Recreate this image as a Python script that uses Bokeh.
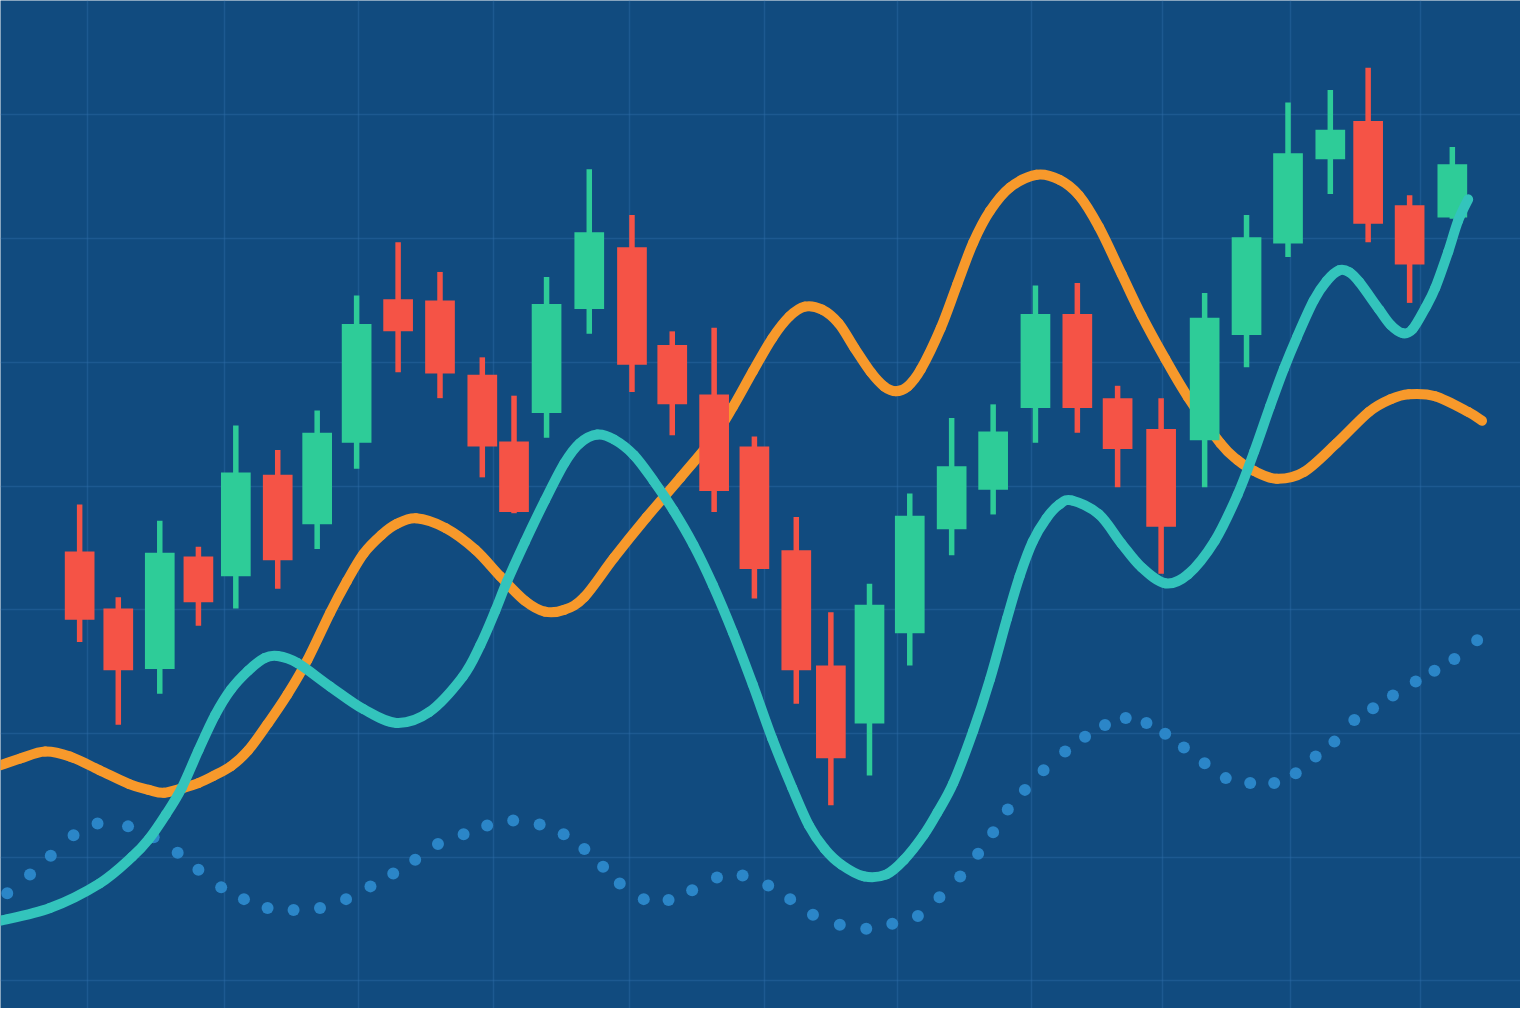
import numpy as np
from bokeh.plotting import figure
from bokeh.models import Range1d, FixedTicker, SingleIntervalTicker, ColumnDataSource
from bokeh.embed import file_html
from bokeh.resources import INLINE

# ---- candle data (time in trading days, price in points) ----
t = [0.00, 0.95, 1.97, 2.92, 3.84, 4.87, 5.84, 6.81, 7.83, 8.86, 9.90, 10.68,
     11.48, 12.53, 13.58, 14.57, 15.60, 16.59, 17.62, 18.47, 19.42, 20.41, 21.44,
     22.46, 23.50, 24.53, 25.52, 26.59, 27.66, 28.69, 29.71, 30.75, 31.68, 32.70, 33.75]
open_ = [134.7, 130.1, 125.2, 134.3, 132.7, 140.9, 136.9, 143.5, 155.1, 155.0, 149.0, 143.6,
         145.9, 154.3, 159.3, 151.4, 147.4, 143.2, 134.8, 125.5, 120.8, 128.1, 136.5,
         139.7, 146.3, 153.9, 147.1, 144.6, 143.7, 152.2, 159.6, 166.4, 169.5, 162.7, 161.7]
high = [138.5, 131.0, 137.2, 135.1, 144.9, 142.9, 146.1, 155.4, 159.7, 157.3, 150.4, 147.3,
        156.9, 165.6, 161.9, 152.5, 152.8, 144.0, 137.5, 129.8, 132.1, 139.4, 145.5,
        146.6, 156.2, 156.4, 148.1, 147.1, 155.6, 161.9, 171.0, 172.0, 173.8, 163.5, 167.4]
low = [127.4, 120.7, 123.2, 128.7, 130.1, 131.7, 134.9, 141.4, 149.2, 147.1, 140.7, 137.8,
       143.9, 152.3, 147.6, 144.1, 137.9, 130.9, 122.4, 114.2, 116.6, 125.5, 134.4,
       137.7, 143.5, 144.3, 139.9, 132.9, 139.9, 149.6, 158.5, 163.6, 159.7, 154.8, 161.6]
close = [129.2, 125.1, 134.6, 130.6, 141.1, 134.0, 144.3, 153.1, 152.5, 149.1, 143.2, 137.9,
         154.7, 160.5, 149.8, 146.6, 139.6, 133.3, 125.1, 118.0, 130.4, 137.6, 141.6,
         144.4, 153.9, 146.3, 143.0, 136.7, 153.6, 160.1, 166.9, 168.8, 161.2, 157.9, 166.0]

# ---- orange moving average ----
ma_slow_t = [-1.95, -1.46, -0.85, -0.24, 0.49, 1.22, 1.70, 2.07, 2.55, 2.92,
             3.28, 3.72, 4.14, 4.62, 5.11, 5.60, 6.16, 6.57, 6.98, 7.42,
             7.79, 8.27, 9.00, 9.73, 10.34, 10.95, 11.44, 11.92, 12.41, 13.14,
             13.94, 14.77, 15.57, 16.06, 16.55, 17.03, 17.45, 17.83, 18.25, 18.66,
             19.05, 19.46, 19.78, 20.07, 20.36, 20.68, 21.17, 21.58, 21.97, 22.38,
             22.87, 23.53, 24.09, 24.57, 25.06, 25.62, 26.11, 26.69, 27.25, 28.05,
             28.47, 28.88, 29.44, 30.10, 30.90, 31.70, 32.24, 32.68, 33.33, 34.14,
             34.48]
ma_slow = [117.43, 117.98, 118.54, 118.14, 117.03, 115.91, 115.44, 115.20, 115.60, 115.99,
           116.55, 117.35, 118.62, 120.77, 123.16, 125.94, 129.76, 132.30, 134.53, 136.04,
           136.92, 137.39, 136.60, 134.85, 132.70, 130.71, 129.84, 130.00, 131.03, 134.21,
           137.47, 140.66, 143.84, 146.38, 149.25, 151.95, 153.70, 154.50, 154.26, 153.15,
           151.16, 149.17, 148.05, 147.66, 148.05, 149.41, 152.75, 156.33, 159.67, 162.22,
           164.12, 165.16, 164.76, 163.49, 160.94, 157.12, 153.78, 150.28, 147.18, 143.44,
           142.09, 141.21, 140.58, 141.13, 143.44, 145.99, 147.02, 147.42, 147.26, 145.99,
           145.27]

# ---- teal oscillator line ----
ma_fast_t = [-1.95, -0.73, 0.49, 1.29, 1.70, 2.12, 2.51, 2.92, 3.33, 3.72,
             4.14, 4.55, 4.87, 5.35, 6.16, 6.98, 7.79, 8.59, 9.42, 9.85,
             10.22, 10.51, 10.95, 11.44, 11.92, 12.29, 12.73, 13.14, 13.63, 14.11,
             14.60, 15.09, 15.57, 16.06, 16.55, 17.03, 17.52, 17.93, 18.32, 18.73,
             19.29, 19.83, 20.27, 20.75, 21.09, 21.48, 21.97, 22.38, 22.80, 23.11,
             23.43, 23.77, 24.09, 24.40, 25.06, 25.62, 26.11, 26.69, 27.25, 27.91,
             28.47, 28.88, 29.27, 29.61, 29.93, 30.34, 30.66, 30.97, 31.22, 31.46,
             31.95, 32.24, 32.53, 32.77, 33.09, 33.33, 33.65, 33.89, 34.14]
ma_fast = [104.86, 105.89, 107.88, 110.03, 111.46, 113.45, 115.60, 118.62, 121.48, 123.55,
           125.06, 126.10, 126.26, 125.70, 123.79, 121.96, 120.85, 121.72, 124.59, 127.13,
           129.92, 132.30, 135.49, 138.83, 141.85, 143.44, 144.16, 143.76, 142.49, 140.42,
           138.03, 135.25, 131.99, 128.17, 123.95, 119.57, 115.60, 112.57, 110.66, 109.39,
           108.44, 108.60, 109.79, 111.78, 113.61, 115.99, 120.21, 124.35, 129.28, 132.70,
           135.49, 137.39, 138.51, 138.83, 137.71, 135.33, 133.42, 132.14, 132.86, 135.57,
           139.30, 142.80, 146.46, 149.49, 152.03, 154.98, 156.57, 157.44, 157.28, 156.49,
           154.26, 152.99, 152.35, 152.67, 154.42, 156.01, 158.95, 161.42, 163.17]

# ---- dotted trend ----
trend_t = [-1.78, -1.22, -0.71, -0.15, 0.44, 1.19, 1.82, 2.41, 2.92, 3.48, 4.04, 4.62, 5.26,
           5.91, 6.55, 7.15, 7.71, 8.25, 8.81, 9.44, 10.02, 10.66, 11.31, 11.90, 12.41,
           12.87, 13.28, 13.87, 14.48, 15.06, 15.67, 16.30, 16.93, 17.47, 18.03, 18.69,
           19.34, 19.98, 20.61, 21.14, 21.65, 22.09, 22.46, 22.82, 23.24, 23.70, 24.23,
           24.72, 25.21, 25.72, 26.23, 26.69, 27.15, 27.66, 28.18, 28.78, 29.37, 29.90,
           30.39, 30.85, 31.34, 31.80, 32.29, 32.85, 33.31, 33.80, 34.36]
trend = [107.08, 108.60, 110.11, 111.78, 112.73, 112.49, 111.62, 110.35, 108.99, 107.56,
         106.61, 105.89, 105.73, 105.89, 106.61, 107.64, 108.68, 109.79, 111.06, 111.86,
         112.57, 112.97, 112.65, 111.86, 110.66, 109.23, 107.88, 106.61, 106.53, 107.32,
         108.36, 108.52, 107.72, 106.61, 105.34, 104.54, 104.22, 104.62, 105.25, 106.77,
         108.44, 110.27, 112.02, 113.85, 115.44, 117.03, 118.54, 119.73, 120.69, 121.25,
         120.85, 119.97, 118.86, 117.59, 116.39, 115.99, 115.99, 116.79, 118.14, 119.34,
         121.09, 122.04, 123.07, 124.19, 125.06, 126.02, 127.53]

# grid positions
grid_t = [0.19, 3.55, 6.86, 10.17, 13.53, 16.84, 20.12, 23.41, 26.62, 29.78, 32.97]

BG = "#114b7f"
UP = "#2ecc98"
DOWN = "#f55346"

up = [c >= o for o, c in zip(open_, close)]
src = ColumnDataSource(dict(
    t=t, high=high, low=low,
    top=[max(o, c) for o, c in zip(open_, close)],
    bottom=[min(o, c) for o, c in zip(open_, close)],
    color=[UP if u else DOWN for u in up],
))


def smooth_source(xs, ys):
    """Catmull-Rom style cubic Bezier segments through the given points."""
    x = np.asarray(xs, float)
    y = np.asarray(ys, float)
    xp = np.concatenate([[x[0]], x, [x[-1]]])
    yp = np.concatenate([[y[0]], y, [y[-1]]])
    n = len(x) - 1
    i = np.arange(n) + 1
    return ColumnDataSource(dict(
        x0=xp[i], y0=yp[i], x1=xp[i + 1], y1=yp[i + 1],
        cx0=xp[i] + (xp[i + 1] - xp[i - 1]) / 6.0,
        cy0=yp[i] + (yp[i + 1] - yp[i - 1]) / 6.0,
        cx1=xp[i + 1] - (xp[i + 2] - xp[i]) / 6.0,
        cy1=yp[i + 1] - (yp[i + 2] - yp[i]) / 6.0,
    ))


p = figure(width=1520, height=1008, x_range=Range1d(-1.946, 35.426),
           y_range=Range1d(97.77, 179.24), output_backend="svg",
           toolbar_location=None, min_border=0)
p.background_fill_color = BG
p.border_fill_color = BG
p.outline_line_color = None
p.xaxis.visible = False
p.yaxis.visible = False
p.xgrid.ticker = FixedTicker(ticks=grid_t)
p.ygrid.ticker = SingleIntervalTicker(interval=10)
p.grid.grid_line_color = "#2f6fab"
p.grid.grid_line_alpha = 0.4
p.grid.grid_line_width = 1.5

# dotted trend
p.scatter(trend_t, trend, size=12, color="#2b86c8", line_color=None)

# orange line (behind candles)
p.bezier(x0="x0", y0="y0", x1="x1", y1="y1", cx0="cx0", cy0="cy0", cx1="cx1", cy1="cy1",
         source=smooth_source(ma_slow_t, ma_slow), line_color="#f7992b",
         line_width=10, line_cap="round")

# candles
p.segment(x0="t", y0="high", x1="t", y1="low", line_color="color",
          line_width=5.5, source=src)
p.vbar(x="t", width=0.73, top="top", bottom="bottom", fill_color="color",
       line_color=None, source=src)

# teal line (in front)
p.bezier(x0="x0", y0="y0", x1="x1", y1="y1", cx0="cx0", cy0="cy0", cx1="cx1", cy1="cy1",
         source=smooth_source(ma_fast_t, ma_fast), line_color="#33c4bc",
         line_width=10, line_cap="round")

open("out.html", "w").write(file_html(p, INLINE))
